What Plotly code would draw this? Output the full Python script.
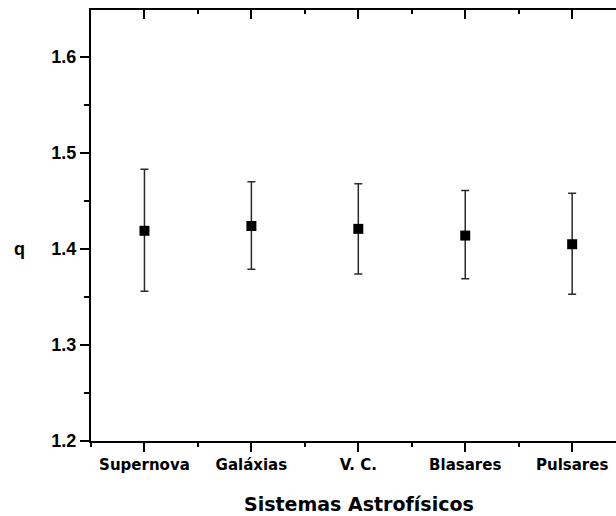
import plotly.graph_objects as go

categories = ["Supernova", "Galáxias", "V. C.", "Blasares", "Pulsares"]
x_pos = [1, 2, 3, 4, 5]
q_values = [1.419, 1.424, 1.421, 1.414, 1.405]
err_plus = [0.064, 0.046, 0.047, 0.047, 0.053]
err_minus = [0.063, 0.045, 0.047, 0.045, 0.052]
y_ticks = [1.2, 1.3, 1.4, 1.5, 1.6]
y_ticktext = ["1.2", "1.3", "1.4", "1.5", "1.6"]

XR = [0.5, 5.41]
YR = [1.2, 1.649]

fig = go.Figure()
fig.add_trace(go.Scatter(
    x=x_pos, y=q_values, mode="markers",
    marker=dict(symbol="square", size=10, color="black"),
    error_y=dict(type="data", symmetric=False, array=err_plus, arrayminus=err_minus,
                 color="#2a2a2a", thickness=1.5, width=4),
    showlegend=False, hoverinfo="skip",
))
# invisible trace for the top axis
fig.add_trace(go.Scatter(x=[XR[0]], y=[YR[0]], xaxis="x2", mode="markers",
                         marker=dict(opacity=0), showlegend=False, hoverinfo="skip"))

fig.update_layout(
    width=616, height=516,
    margin=dict(l=91, r=0, t=10, b=75),
    paper_bgcolor="white", plot_bgcolor="white",
    xaxis=dict(
        range=XR, tickvals=x_pos, ticktext=categories,
        showline=True, linecolor="black", linewidth=2,
        ticks="outside", ticklen=9, tickwidth=2, tickcolor="black",
        minor=dict(tick0=0.5, dtick=1, ticks="outside", ticklen=4, tickwidth=2, tickcolor="black"),
        showgrid=False, zeroline=False,
        tickfont=dict(family="DejaVu Sans", size=15, color="black", weight="bold"),
    ),
    xaxis2=dict(
        overlaying="x", side="top", anchor="y", range=XR, tickvals=x_pos,
        showticklabels=False,
        showline=True, linecolor="black", linewidth=2,
        ticks="inside", ticklen=9, tickwidth=2, tickcolor="black",
        minor=dict(tick0=0.5, dtick=1, ticks="inside", ticklen=4, tickwidth=2, tickcolor="black"),
        showgrid=False, zeroline=False,
    ),
    yaxis=dict(
        range=YR, tickvals=y_ticks, ticktext=y_ticktext,
        showline=True, linecolor="black", linewidth=2,
        ticks="outside", ticklen=9, tickwidth=2, tickcolor="black",
        minor=dict(tick0=1.25, dtick=0.1, ticks="outside", ticklen=5, tickwidth=2, tickcolor="black"),
        showgrid=False, zeroline=False,
        tickfont=dict(family="Liberation Sans", size=18, color="black", weight="bold"),
    ),
    annotations=[
        dict(text="Sistemas Astrofísicos", x=3.01, xref="x", y=-0.146, yref="paper",
             xanchor="center", yanchor="middle", showarrow=False,
             font=dict(family="DejaVu Sans", size=19, color="black", weight="bold")),
        dict(text="q", x=(19 - 91) / 525, xref="paper", y=1.4, yref="y",
             xanchor="center", yanchor="middle", showarrow=False,
             font=dict(family="Liberation Sans", size=18, color="black", weight="bold")),
    ],
)

fig.write_html("out.html", config={"displayModeBar": False},
               post_script="document.body.style.margin='0';document.body.style.overflow='hidden';")
